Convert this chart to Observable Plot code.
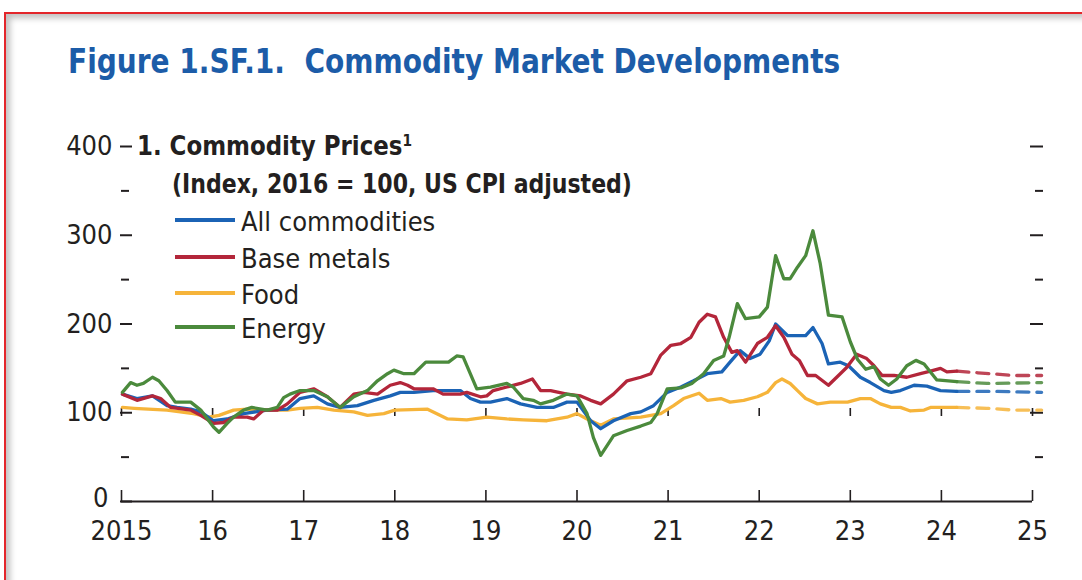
<!DOCTYPE html>
<html>
<head>
<meta charset="utf-8">
<script src="https://cdn.jsdelivr.net/npm/d3@7"></script>
<script src="https://cdn.jsdelivr.net/npm/@observablehq/plot@0.6"></script>
<style>
  html, body { margin: 0; padding: 0; background: #fff; overflow: hidden; }
  body { width: 1082px; height: 580px; position: relative; font-family: "DejaVu Sans Condensed", "Liberation Sans", sans-serif; color: #231f20; }
  #frame { position: absolute; left: 4px; top: 12px; width: 1200px; height: 700px; border-top: 2px solid #e3262b; border-left: 2px solid #e3262b; box-shadow: inset 4px 4px 6px rgba(0,0,0,0.25); }
  .t { position: absolute; white-space: nowrap; line-height: 1; transform-origin: 0 50%; }
  #title { left: 68px; top: 44px; font-size: 34px; font-weight: bold; color: #1c5ca8; }
  .panel { left: 172px; font-size: 27px; font-weight: bold; }
  .panel sup { font-size: 60%; vertical-align: 0.55em; line-height: 0; }
  .leg { left: 241px; font-size: 27px; }
  .sw { position: absolute; left: 175px; width: 60px; height: 4px; }
  #chart { position: absolute; left: 0; top: 120px; }
</style>
</head>
<body>
<div id="frame"></div>
<div id="title" class="t" data-w="772">Figure 1.SF.1.&nbsp; Commodity Market Developments</div>
<div id="p1" class="t panel" data-w="275" style="top:132px; left:137px">1. Commodity Prices<sup>1</sup></div>
<div id="p2" class="t panel" data-w="460" style="top:170px">(Index, 2016 = 100, US CPI adjusted)</div>
<div id="legend"></div>
<div id="chart"></div>
<script>
// ---- data (decimal year, index value) ----
const seriesNames = ["All commodities", "Base metals", "Food", "Energy"];
const seriesColors = ["#1b63b5", "#b3263a", "#f6b43a", "#4b8a3c"];

const allCommodities = [
  [2015.01,121],[2015.17,116],[2015.34,119],[2015.50,108],[2015.61,106],[2015.76,104],[2015.87,101],
  [2016.01,91],[2016.16,93],[2016.34,99],[2016.60,103],[2016.82,104],[2016.96,116],[2017.11,119],
  [2017.26,110],[2017.40,106],[2017.59,108],[2017.77,114],[2017.95,119],[2018.06,123],[2018.21,123],
  [2018.42,125],[2018.61,125],[2018.72,125],[2018.83,116],[2018.94,112],[2019.05,112],[2019.23,116],
  [2019.38,110],[2019.56,106],[2019.74,106],[2019.89,112],[2020.00,112],[2020.15,91],[2020.26,82],
  [2020.40,91],[2020.59,99],[2020.70,101],[2020.84,108],[2020.99,123],[2021.14,129],[2021.28,136],
  [2021.43,144],[2021.59,146],[2021.68,157],[2021.79,170],[2021.90,161],[2022.01,166],[2022.11,181],
  [2022.18,200],[2022.31,187],[2022.42,187],[2022.51,187],[2022.59,196],[2022.69,178],[2022.76,155],
  [2022.89,157],[2022.98,153],[2023.11,140],[2023.22,134],[2023.37,125],[2023.45,123],[2023.55,125],
  [2023.70,131],[2023.84,130],[2023.99,125],[2024.17,124]
];
const allCommoditiesProj = [[2024.17,124],[2024.6,124],[2025.1,123]];

const baseMetals = [
  [2015.01,121],[2015.17,114],[2015.34,119],[2015.43,116],[2015.54,106],[2015.76,103],[2015.87,97],
  [2016.01,88],[2016.12,89],[2016.23,95],[2016.38,95],[2016.45,93],[2016.56,103],[2016.71,103],
  [2016.82,110],[2016.96,123],[2017.11,127],[2017.26,118],[2017.40,106],[2017.55,121],[2017.66,123],
  [2017.81,121],[2017.95,131],[2018.06,134],[2018.14,131],[2018.21,127],[2018.42,127],[2018.53,121],
  [2018.72,121],[2018.79,123],[2018.94,118],[2019.01,119],[2019.08,125],[2019.23,129],[2019.38,133],
  [2019.51,138],[2019.60,125],[2019.71,125],[2019.89,121],[2020.04,119],[2020.15,114],[2020.26,110],
  [2020.40,121],[2020.55,136],[2020.70,140],[2020.81,144],[2020.92,165],[2021.03,176],[2021.14,178],
  [2021.25,185],[2021.34,202],[2021.43,211],[2021.52,208],[2021.61,185],[2021.70,168],[2021.76,170],
  [2021.85,157],[2021.98,178],[2022.09,185],[2022.18,198],[2022.27,185],[2022.36,166],[2022.44,159],
  [2022.53,142],[2022.62,142],[2022.76,131],[2022.89,144],[2022.96,151],[2023.07,166],[2023.18,161],
  [2023.26,153],[2023.35,142],[2023.48,142],[2023.62,140],[2023.77,144],[2023.88,147],[2023.99,150],
  [2024.06,146],[2024.17,147]
];
const baseMetalsProj = [[2024.17,147],[2024.4,145],[2024.8,142],[2025.1,142]];

const food = [
  [2015.01,106],[2015.14,105],[2015.50,103],[2015.79,99],[2015.96,95],[2016.07,97],[2016.23,103],
  [2016.38,104],[2016.60,103],[2016.82,103],[2016.96,105],[2017.15,106],[2017.33,103],[2017.55,101],
  [2017.70,97],[2017.88,99],[2018.00,103],[2018.36,104],[2018.58,93],[2018.79,92],[2019.01,95],
  [2019.23,93],[2019.41,92],[2019.67,91],[2019.89,95],[2020.00,99],[2020.11,93],[2020.26,86],
  [2020.40,93],[2020.70,95],[2020.92,99],[2021.06,108],[2021.17,116],[2021.34,122],[2021.43,114],
  [2021.58,116],[2021.68,112],[2021.83,114],[2021.98,118],[2022.09,123],[2022.18,134],[2022.25,138],
  [2022.34,133],[2022.42,125],[2022.51,116],[2022.64,110],[2022.78,112],[2022.97,112],[2023.11,116],
  [2023.22,116],[2023.33,110],[2023.45,106],[2023.55,106],[2023.66,102],[2023.81,103],[2023.88,106],
  [2023.99,106],[2024.17,106]
];
const foodProj = [[2024.17,106],[2024.5,105],[2024.8,103],[2025.1,103]];

const energy = [
  [2015.01,123],[2015.10,134],[2015.17,131],[2015.24,133],[2015.34,140],[2015.41,136],[2015.50,125],
  [2015.59,112],[2015.76,112],[2015.87,103],[2016.01,84],[2016.07,78],[2016.16,88],[2016.23,95],
  [2016.34,103],[2016.43,106],[2016.60,103],[2016.71,106],[2016.78,117],[2016.85,121],[2016.96,125],
  [2017.11,125],[2017.26,118],[2017.40,106],[2017.55,118],[2017.70,125],[2017.81,136],[2017.92,144],
  [2017.99,148],[2018.10,144],[2018.21,144],[2018.34,157],[2018.47,157],[2018.59,157],[2018.68,164],
  [2018.75,163],[2018.90,127],[2019.05,129],[2019.23,133],[2019.30,129],[2019.41,116],[2019.52,114],
  [2019.60,110],[2019.74,114],[2019.89,121],[2020.00,119],[2020.11,99],[2020.18,72],[2020.26,52],
  [2020.40,74],[2020.55,80],[2020.70,85],[2020.81,89],[2020.88,99],[2020.99,127],[2021.14,128],
  [2021.26,133],[2021.39,144],[2021.50,159],[2021.61,164],[2021.67,185],[2021.76,223],[2021.85,206],
  [2022.00,208],[2022.09,219],[2022.18,277],[2022.27,251],[2022.34,251],[2022.42,264],[2022.51,277],
  [2022.59,305],[2022.67,268],[2022.76,210],[2022.91,208],[2023.00,180],[2023.08,160],[2023.17,149],
  [2023.26,152],[2023.33,138],[2023.42,131],[2023.51,138],[2023.62,153],[2023.72,159],[2023.81,155],
  [2023.88,146],[2023.95,137],[2024.17,135]
];
const energyProj = [[2024.17,135],[2024.5,133],[2025.1,134]];

// ---- axes ----
const yMajor = [0, 100, 200, 300, 400];
const yMinor = [50, 150, 250, 350];
const yearTicks = [2015, 2016, 2017, 2018, 2019, 2020, 2021, 2022, 2023, 2024, 2025];
const yearLabels = ["2015", "16", "17", "18", "19", "20", "21", "22", "23", "24", "25"];

const FONT = '"DejaVu Sans Condensed", "Liberation Sans", sans-serif';
const X = d => d[0], Y = d => d[1];
const blank = () => "";

const solid = [allCommodities, baseMetals, food, energy];
const proj = [allCommoditiesProj, baseMetalsProj, foodProj, energyProj];
const drawOrder = [2, 0, 1, 3];

const lineMarks = [];
for (const i of drawOrder) {
  lineMarks.push(Plot.line(solid[i], {x: X, y: Y, stroke: seriesColors[i], strokeWidth: 3.3}));
  lineMarks.push(Plot.line(proj[i], {x: X, y: Y, stroke: seriesColors[i], strokeWidth: 3.3, strokeDasharray: "12,8", strokeOpacity: 0.85}));
}

const chart = Plot.plot({
  width: 1082,
  height: 440,
  marginLeft: 121,
  marginRight: 50,
  marginTop: 26,
  marginBottom: 59,
  x: {type: "linear", domain: [2015, 2025]},
  y: {type: "linear", domain: [0, 400]},
  style: {fontFamily: FONT, fontSize: "27px", color: "#231f20", background: "transparent", overflow: "visible"},
  marks: [
    Plot.axisY({ticks: yMajor.filter(d => d > 0), tickSize: 0, tickPadding: 9, tickFormat: d => String(d)}),
    Plot.axisY({ticks: [yMajor[0]], tickSize: 0, tickPadding: 13, dy: -3, tickFormat: d => String(d)}),
    Plot.axisY({ticks: yMajor, tickSize: 12, dx: 11, tickFormat: blank, strokeWidth: 2}),
    Plot.axisY({ticks: yMinor, tickSize: 8, dx: 8, tickFormat: blank, strokeWidth: 2}),
    Plot.axisY({anchor: "right", ticks: yMajor.filter(d => d > 0), tickSize: 13, dx: -3, tickFormat: blank, strokeWidth: 2}),
    Plot.axisY({anchor: "right", ticks: yMinor, tickSize: 8, dx: 2, tickFormat: blank, strokeWidth: 2}),
    Plot.axisX({ticks: yearTicks, tickSize: 11, dy: -11, tickFormat: blank, strokeWidth: 1.6}),
    Plot.axisX({ticks: yearTicks, tickSize: 8, dy: -93, tickFormat: blank, strokeWidth: 1.6}),
    Plot.axisX({ticks: yearTicks, tickSize: 0, tickPadding: 19, tickFormat: d => yearLabels[yearTicks.indexOf(d)]}),
    Plot.ruleY([0], {strokeWidth: 2.2, stroke: "#231f20"}),
    ...lineMarks
  ]
});
document.getElementById("chart").appendChild(chart);

// ---- legend ----
const legend = document.getElementById("legend");
const legendTops = [220, 256.5, 292.5, 327];
seriesNames.forEach((name, i) => {
  const sw = document.createElement("div");
  sw.className = "sw";
  sw.style.top = (legendTops[i] - 2) + "px";
  sw.style.background = seriesColors[i];
  legend.appendChild(sw);
  const t = document.createElement("div");
  t.className = "t leg";
  t.style.top = (legendTops[i] - 12) + "px";
  t.textContent = name;
  legend.appendChild(t);
});

// condense headline texts to the reference's narrow widths
document.querySelectorAll("[data-w]").forEach(el => {
  const w = el.getBoundingClientRect().width;
  const target = +el.dataset.w;
  if (w > 0) el.style.transform = `scaleX(${Math.min(1, target / w).toFixed(3)})`;
});
</script>
</body>
</html>
